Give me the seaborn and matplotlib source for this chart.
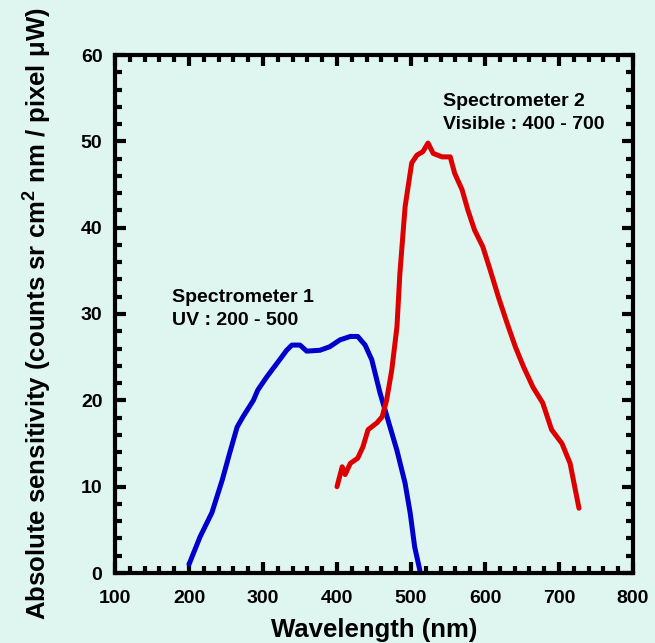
import numpy as np
import pandas as pd
import matplotlib
matplotlib.use("Agg")
import matplotlib.pyplot as plt
import seaborn as sns
from matplotlib.ticker import MultipleLocator

# --- data ---
uv_wavelength = [200, 215, 231, 245, 255, 265, 273, 287, 293, 305, 319, 332, 339,
                 350, 359, 377, 390, 404, 418, 428, 438, 447, 458, 469, 481, 492,
                 499, 505, 512]
uv_sensitivity = [1.0, 4.2, 7.0, 10.8, 13.9, 16.9, 18.1, 20.0, 21.2, 22.7, 24.3,
                  25.8, 26.4, 26.4, 25.7, 25.8, 26.2, 27.0, 27.4, 27.4, 26.4, 24.7,
                  20.9, 17.7, 14.2, 10.4, 6.9, 3.0, 0.3]

vis_wavelength = [400, 407, 411, 418, 428, 435, 442, 454, 461, 467, 474, 481, 485,
                  492, 496, 501, 508, 516, 523, 530, 542, 553, 559, 569, 577, 586,
                  597, 607, 618, 630, 641, 652, 665, 678, 690, 704, 715, 727]
vis_sensitivity = [10.0, 12.3, 11.4, 12.7, 13.3, 14.6, 16.6, 17.4, 18.1, 20.0,
                   23.5, 28.5, 34.7, 42.4, 44.7, 47.5, 48.4, 48.8, 49.8, 48.6,
                   48.2, 48.2, 46.3, 44.4, 42.0, 39.7, 37.8, 35.1, 32.0, 28.9,
                   26.2, 23.9, 21.5, 19.7, 16.6, 15.0, 12.7, 7.5]

x_ticks = [100, 200, 300, 400, 500, 600, 700, 800]
y_ticks = [0, 10, 20, 30, 40, 50, 60]

uv_df = pd.DataFrame({"wavelength": uv_wavelength, "sensitivity": uv_sensitivity})
vis_df = pd.DataFrame({"wavelength": vis_wavelength, "sensitivity": vis_sensitivity})

sns.set_style("white")
bg = "#def5f0"
plt.rcParams["font.family"] = ["Liberation Sans", "DejaVu Sans"]
plt.rcParams["font.weight"] = "bold"
plt.rcParams["text.color"] = "black"
plt.rcParams["axes.labelcolor"] = "black"
plt.rcParams["xtick.color"] = "black"
plt.rcParams["ytick.color"] = "black"
plt.rcParams["mathtext.fontset"] = "custom"
plt.rcParams["mathtext.rm"] = "Liberation Sans:bold"
plt.rcParams["mathtext.it"] = "Liberation Sans:bold"
plt.rcParams["mathtext.bf"] = "Liberation Sans:bold"

fig = plt.figure(figsize=(6.55, 6.43), dpi=100, facecolor=bg)
ax = fig.add_axes([115 / 655, 70 / 643, 518 / 655, 518 / 643])
ax.set_facecolor(bg)

sns.lineplot(data=uv_df, x="wavelength", y="sensitivity", sort=False,
             color="#0000cc", linewidth=3.6, ax=ax)
sns.lineplot(data=vis_df, x="wavelength", y="sensitivity", sort=False,
             color="#dd0000", linewidth=3.6, ax=ax)

ax.set_xlim(100, 800)
ax.set_ylim(0, 60)
ax.set_xticks(x_ticks)
ax.set_yticks(y_ticks)
ax.xaxis.set_minor_locator(MultipleLocator(20))
ax.yaxis.set_minor_locator(MultipleLocator(2))
ax.tick_params(which="both", direction="in", top=True, right=True,
               bottom=True, left=True, color="black", labelcolor="black")
ax.tick_params(which="major", length=8, width=3, labelsize=14)
ax.tick_params(axis="x", which="major", pad=12.5)
ax.tick_params(axis="y", which="major", pad=9)
ax.tick_params(which="minor", length=5, width=3)
for lab in ax.get_xticklabels() + ax.get_yticklabels():
    lab.set_fontweight("bold")
for sp in ax.spines.values():
    sp.set_visible(True)
    sp.set_linewidth(3)
    sp.set_color("black")

ax.set_xlabel("Wavelength (nm)", fontsize=18.5, fontweight="bold", labelpad=8)
ax.set_ylabel(r"Absolute sensitivity (counts sr cm$^2$ nm / pixel $\mu$W)",
              fontsize=18.5, fontweight="bold", labelpad=19)

ax.text(177, 32.9, "Spectrometer 1\nUV : 200 - 500", fontsize=14,
        fontweight="bold", va="top", ha="left", linespacing=1.5)
ax.text(543, 55.6, "Spectrometer 2\nVisible : 400 - 700", fontsize=14,
        fontweight="bold", va="top", ha="left", linespacing=1.5)

fig.savefig("out.png", dpi=100, facecolor=bg)
